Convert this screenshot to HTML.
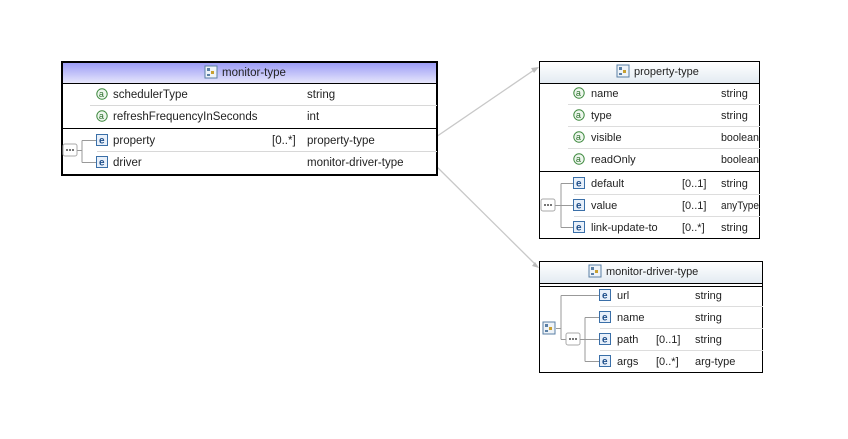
<!DOCTYPE html>
<html><head><meta charset="utf-8"><style>
html,body{margin:0;padding:0;background:#fff;}
svg text{font-family:"Liberation Sans",sans-serif;font-size:11px;fill:#222;}
</style></head><body>
<svg width="848" height="434" xmlns="http://www.w3.org/2000/svg">
<defs>
<linearGradient id="pg" x1="0" y1="0" x2="0" y2="1"><stop offset="0" stop-color="#9c9cf6"/><stop offset="1" stop-color="#e6e6fb"/></linearGradient>
<linearGradient id="gg" x1="0" y1="0" x2="0" y2="1"><stop offset="0" stop-color="#ffffff"/><stop offset="1" stop-color="#e3ebf2"/></linearGradient>
<g id="a"><circle cx="0" cy="0" r="5.2" fill="#eef7ee" stroke="#3f8a3f" stroke-width="1"/><text x="-3.2" y="3" style="font-size:9px;fill:#2c6f2c">a</text></g>
<g id="e"><rect x="-5.5" y="-5.5" width="11" height="11" fill="#e8f0fa" stroke="#3a6fa8"/><text x="-3" y="3.5" style="font-size:10px;font-weight:bold;fill:#1f4f8a">e</text></g>
<g id="seq"><rect x="0" y="0" width="14" height="12" rx="2" fill="#fff" stroke="#aaa"/><rect x="3" y="5" width="2" height="2" fill="#777"/><rect x="6" y="5" width="2" height="2" fill="#777"/><rect x="9" y="5" width="2" height="2" fill="#777"/></g>
<g id="ct"><rect x="-6" y="-6" width="12" height="12" fill="#eef3f8" stroke="#5a7fa5"/><rect x="-4" y="-4" width="3" height="3" fill="#5a7fa5"/><rect x="0" y="-1" width="3" height="3" fill="#c8a030"/><rect x="-4" y="2" width="3" height="2" fill="#5a7fa5"/></g>
</defs>
<line x1="433" y1="139" x2="537" y2="68" stroke="#c8c8c8" stroke-width="1.3"/>
<polygon points="539,67 531,68 534,73" fill="#bbb"/>
<line x1="433" y1="163" x2="537" y2="266" stroke="#c8c8c8" stroke-width="1.3"/>
<polygon points="539,268 532,266 535,262" fill="#bbb"/>

<rect x="62" y="62" width="375" height="113" fill="#fff" stroke="#000" stroke-width="2"/>
<rect x="63" y="63" width="373" height="20" fill="url(#pg)"/>
<line x1="62" y1="83.5" x2="437" y2="83.5" stroke="#000"/>
<use href="#ct" x="211" y="72"/>
<text x="222" y="76" style="font-size:11.5px">monitor-type</text>
<use href="#a" x="102" y="94"/><text x="113" y="98" style="font-size:11.5px">schedulerType</text><text x="307" y="98" style="font-size:11.5px">string</text>
<line x1="90" y1="105.5" x2="437" y2="105.5" stroke="#d8d8d8"/>
<use href="#a" x="102" y="116"/><text x="113" y="120" style="font-size:11.5px">refreshFrequencyInSeconds</text><text x="307" y="120" style="font-size:11.5px">int</text>
<line x1="62" y1="128.5" x2="437" y2="128.5" stroke="#000"/>
<use href="#seq" x="63" y="144"/>
<path d="M77 150.5H82M82 140.5V162.5M82 140.5H97M82 162.5H97" stroke="#999" fill="none"/>
<use href="#e" x="102" y="140"/><text x="113" y="144" style="font-size:11.5px">property</text><text x="272" y="144" style="font-size:11.5px">[0..*]</text><text x="307" y="144" style="font-size:11.5px">property-type</text>
<line x1="97" y1="151.5" x2="437" y2="151.5" stroke="#d8d8d8"/>
<use href="#e" x="102" y="162"/><text x="113" y="166" style="font-size:11.5px">driver</text><text x="307" y="166" style="font-size:11.5px">monitor-driver-type</text>

<rect x="539.5" y="61.5" width="220" height="177" fill="#fff" stroke="#000"/>
<rect x="540" y="62" width="219" height="21" fill="url(#gg)"/>
<line x1="539" y1="83.5" x2="760" y2="83.5" stroke="#000"/>
<use href="#ct" x="623" y="71"/>
<text x="634" y="75">property-type</text>
<use href="#a" x="579" y="93"/><text x="591" y="97">name</text><text x="721" y="97">string</text>
<line x1="568" y1="104.5" x2="760" y2="104.5" stroke="#ddd"/>
<use href="#a" x="579" y="115"/><text x="591" y="119">type</text><text x="721" y="119">string</text>
<line x1="568" y1="126.5" x2="760" y2="126.5" stroke="#ddd"/>
<use href="#a" x="579" y="137"/><text x="591" y="141">visible</text><text x="721" y="141" textLength="38" lengthAdjust="spacingAndGlyphs">boolean</text>
<line x1="568" y1="148.5" x2="760" y2="148.5" stroke="#ddd"/>
<use href="#a" x="579" y="159"/><text x="591" y="163">readOnly</text><text x="721" y="163" textLength="38" lengthAdjust="spacingAndGlyphs">boolean</text>
<line x1="539" y1="171.5" x2="760" y2="171.5" stroke="#000"/>
<use href="#seq" x="541" y="199"/>
<path d="M555 205.5H561M561 183.5V227.5M561 183.5H574M561 205.5H574M561 227.5H574" stroke="#999" fill="none"/>
<use href="#e" x="579" y="183"/><text x="591" y="187">default</text><text x="682" y="187">[0..1]</text><text x="721" y="187">string</text>
<line x1="574" y1="194.5" x2="760" y2="194.5" stroke="#ddd"/>
<use href="#e" x="579" y="205"/><text x="591" y="209">value</text><text x="682" y="209">[0..1]</text><text x="721" y="209" textLength="38" lengthAdjust="spacingAndGlyphs">anyType</text>
<line x1="574" y1="216.5" x2="760" y2="216.5" stroke="#ddd"/>
<use href="#e" x="579" y="227"/><text x="591" y="231">link-update-to</text><text x="682" y="231">[0..*]</text><text x="721" y="231">string</text>

<rect x="539.5" y="261.5" width="223" height="111" fill="#fff" stroke="#000"/>
<rect x="540" y="262" width="222" height="21" fill="url(#gg)"/>
<line x1="539" y1="283.5" x2="763" y2="283.5" stroke="#000"/>
<line x1="539" y1="286.5" x2="763" y2="286.5" stroke="#000"/>
<use href="#ct" x="595" y="271"/>
<text x="606" y="275">monitor-driver-type</text>
<use href="#ct" x="549" y="328"/>
<path d="M556 328.5H561M561 295.5V339.5M561 295.5H600M561 339.5H566" stroke="#999" fill="none"/>
<use href="#seq" x="566" y="333"/>
<path d="M580 339.5H585M585 317.5V361.5M585 317.5H600M585 339.5H600M585 361.5H600" stroke="#999" fill="none"/>
<use href="#e" x="605" y="295"/><text x="617" y="299">url</text><text x="695" y="299">string</text>
<line x1="600" y1="306.5" x2="763" y2="306.5" stroke="#ddd"/>
<use href="#e" x="605" y="317"/><text x="617" y="321">name</text><text x="695" y="321">string</text>
<line x1="600" y1="328.5" x2="763" y2="328.5" stroke="#ddd"/>
<use href="#e" x="605" y="339"/><text x="617" y="343">path</text><text x="656" y="343">[0..1]</text><text x="695" y="343">string</text>
<line x1="600" y1="350.5" x2="763" y2="350.5" stroke="#ddd"/>
<use href="#e" x="605" y="361"/><text x="617" y="365">args</text><text x="656" y="365">[0..*]</text><text x="695" y="365">arg-type</text>
</svg>
</body></html>
